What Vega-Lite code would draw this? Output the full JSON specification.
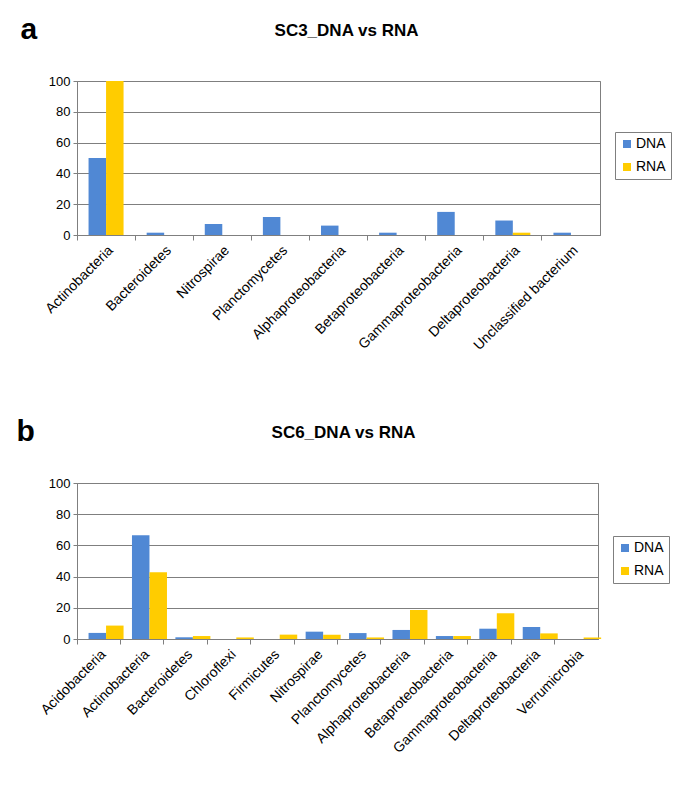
{
  "$schema": "https://vega.github.io/schema/vega-lite/v6.json",
  "background": "white",
  "padding": {"left": 15, "top": 13, "right": 5, "bottom": 5},
  "columns": 1,
  "align": "none",
  "spacing": 62,
  "datasets": {
    "sc3": [
      {"taxon": "Actinobacteria", "type": "DNA", "value": 50},
      {"taxon": "Actinobacteria", "type": "RNA", "value": 100},
      {"taxon": "Bacteroidetes", "type": "DNA", "value": 1.5},
      {"taxon": "Bacteroidetes", "type": "RNA", "value": 0},
      {"taxon": "Nitrospirae", "type": "DNA", "value": 7.2},
      {"taxon": "Nitrospirae", "type": "RNA", "value": 0},
      {"taxon": "Planctomycetes", "type": "DNA", "value": 11.7},
      {"taxon": "Planctomycetes", "type": "RNA", "value": 0},
      {"taxon": "Alphaproteobacteria", "type": "DNA", "value": 6.1},
      {"taxon": "Alphaproteobacteria", "type": "RNA", "value": 0},
      {"taxon": "Betaproteobacteria", "type": "DNA", "value": 1.5},
      {"taxon": "Betaproteobacteria", "type": "RNA", "value": 0},
      {"taxon": "Gammaproteobacteria", "type": "DNA", "value": 15},
      {"taxon": "Gammaproteobacteria", "type": "RNA", "value": 0},
      {"taxon": "Deltaproteobacteria", "type": "DNA", "value": 9.4},
      {"taxon": "Deltaproteobacteria", "type": "RNA", "value": 1.5},
      {"taxon": "Unclassified bacterium", "type": "DNA", "value": 1.5},
      {"taxon": "Unclassified bacterium", "type": "RNA", "value": 0}
    ],
    "sc6": [
      {"taxon": "Acidobacteria", "type": "DNA", "value": 3.9},
      {"taxon": "Acidobacteria", "type": "RNA", "value": 8.6},
      {"taxon": "Actinobacteria", "type": "DNA", "value": 66.5},
      {"taxon": "Actinobacteria", "type": "RNA", "value": 42.8},
      {"taxon": "Bacteroidetes", "type": "DNA", "value": 1.1},
      {"taxon": "Bacteroidetes", "type": "RNA", "value": 1.9},
      {"taxon": "Chloroflexi", "type": "DNA", "value": 0},
      {"taxon": "Chloroflexi", "type": "RNA", "value": 1.0},
      {"taxon": "Firmicutes", "type": "DNA", "value": 0},
      {"taxon": "Firmicutes", "type": "RNA", "value": 2.8},
      {"taxon": "Nitrospirae", "type": "DNA", "value": 4.7},
      {"taxon": "Nitrospirae", "type": "RNA", "value": 2.8},
      {"taxon": "Planctomycetes", "type": "DNA", "value": 3.8},
      {"taxon": "Planctomycetes", "type": "RNA", "value": 1.0},
      {"taxon": "Alphaproteobacteria", "type": "DNA", "value": 5.8},
      {"taxon": "Alphaproteobacteria", "type": "RNA", "value": 18.6},
      {"taxon": "Betaproteobacteria", "type": "DNA", "value": 1.9},
      {"taxon": "Betaproteobacteria", "type": "RNA", "value": 1.9},
      {"taxon": "Gammaproteobacteria", "type": "DNA", "value": 6.6},
      {"taxon": "Gammaproteobacteria", "type": "RNA", "value": 16.5},
      {"taxon": "Deltaproteobacteria", "type": "DNA", "value": 7.7},
      {"taxon": "Deltaproteobacteria", "type": "RNA", "value": 3.6},
      {"taxon": "Verrumicrobia", "type": "DNA", "value": 0},
      {"taxon": "Verrumicrobia", "type": "RNA", "value": 1.0}
    ]
  },
  "concat": [
    {
      "data": {"name": "sc3"},
      "width": 523,
      "height": 154,
      "title": {"text": "SC3_DNA vs RNA", "dx": 8},
      "mark": {"type": "bar"},
      "encoding": {
        "x": {
          "field": "taxon", "type": "nominal", "sort": null,
          "scale": {"paddingInner": 0, "paddingOuter": 0},
          "axis": {"title": null, "bandPosition": 0, "labelAngle": -45}
        },
        "xOffset": {
          "field": "type", "type": "nominal", "sort": ["DNA", "RNA"],
          "scale": {"paddingInner": 0, "paddingOuter": 0.66}
        },
        "y": {
          "field": "value", "type": "quantitative",
          "scale": {"domain": [0, 100], "nice": false},
          "axis": {"title": "a", "values": [0, 20, 40, 60, 80, 100], "titleX": -57, "titleY": -43}
        },
        "color": {
          "field": "type", "type": "nominal",
          "scale": {"domain": ["DNA", "RNA"], "range": ["#5088D4", "#FFCC00"]},
          "legend": {"legendX": 538, "legendY": 51}
        }
      }
    },
    {
      "data": {"name": "sc6"},
      "width": 521,
      "height": 156,
      "title": {"text": "SC6_DNA vs RNA", "dx": 6},
      "mark": {"type": "bar"},
      "encoding": {
        "x": {
          "field": "taxon", "type": "nominal", "sort": null,
          "scale": {"paddingInner": 0, "paddingOuter": 0},
          "axis": {"title": null, "bandPosition": 0, "labelAngle": -45}
        },
        "xOffset": {
          "field": "type", "type": "nominal", "sort": ["DNA", "RNA"],
          "scale": {"paddingInner": 0, "paddingOuter": 0.58}
        },
        "y": {
          "field": "value", "type": "quantitative",
          "scale": {"domain": [0, 100], "nice": false},
          "axis": {"title": "b", "values": [0, 20, 40, 60, 80, 100], "titleX": -61, "titleY": -43}
        },
        "color": {
          "field": "type", "type": "nominal",
          "scale": {"domain": ["DNA", "RNA"], "range": ["#5088D4", "#FFCC00"]},
          "legend": {"legendX": 536, "legendY": 53}
        }
      }
    }
  ],
  "resolve": {"scale": {"color": "independent", "x": "independent"}, "legend": {"color": "independent"}},
  "config": {
    "font": "Liberation Sans",
    "view": {"stroke": "#7f7f7f", "strokeWidth": 1},
    "title": {"font": "Liberation Sans", "fontSize": 17, "fontWeight": "bold", "color": "#000000", "anchor": "middle", "offset": -26},
    "axis": {
      "domainColor": "#7f7f7f", "tickColor": "#7f7f7f", "gridColor": "#7f7f7f",
      "labelFont": "Liberation Sans", "labelColor": "#000000"
    },
    "axisY": {
      "grid": true, "labelFontSize": 13, "tickSize": 4, "labelPadding": 3,
      "titleAngle": 0, "titleFont": "Liberation Sans", "titleFontSize": 30, "titleFontWeight": "bold",
      "titleAlign": "left", "titleBaseline": "alphabetic", "titleColor": "#000000"
    },
    "axisX": {"grid": false, "labelFontSize": 14, "tickSize": 5, "labelPadding": 3},
    "legend": {
      "orient": "none", "title": null, "strokeColor": "#7f7f7f", "padding": 5,
      "symbolType": "square", "symbolSize": 64, "symbolStrokeWidth": 0,
      "labelFont": "Liberation Sans", "labelFontSize": 14, "labelColor": "#000000",
      "labelOffset": 2, "rowPadding": 9
    },
    "bar": {"stroke": null}
  }
}
